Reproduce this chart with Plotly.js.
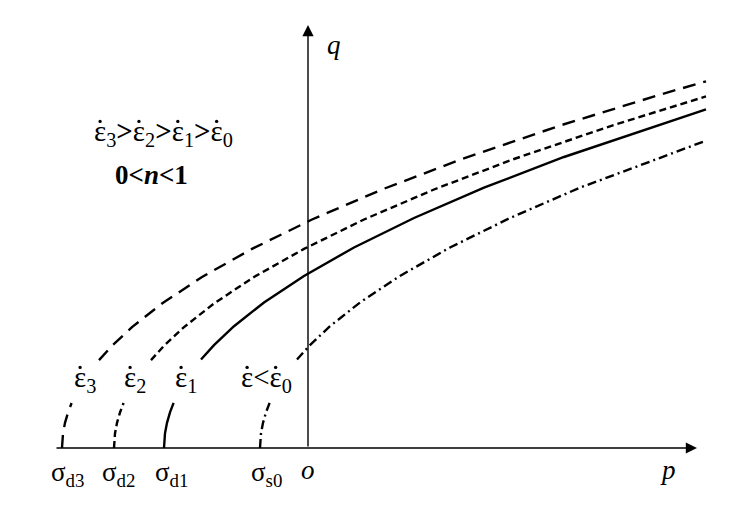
<!DOCTYPE html>
<html>
<head>
<meta charset="utf-8">
<script src="https://cdn.plot.ly/plotly-3.0.1.min.js"></script>
<style>html,body{margin:0;padding:0;background:#fff;}#chart{width:741px;height:522px;}</style>
</head>
<body>
<div id="chart"></div>
<script>
// Values (p relative to origin o, q above the p axis)
const curveNames = ["eps3", "eps2", "eps1", "eps0"];
const startLabels = ["σ<sub>d3</sub>", "σ<sub>d2</sub>", "σ<sub>d1</sub>", "σ<sub>s0</sub>"];
const rateLabels = ["ε<sub>3</sub>", "ε<sub>2</sub>", "ε<sub>1</sub>", "ε<ε<sub>0</sub>"];

// lower part (from the p axis up to the label) and upper part (above the label)
const p3 = [-246, -245, -243, -240, -236.4, null, -209, -196, -176, -146, -106, -56, 4, 74, 154, 254, 354, 398];
const q3 = [0, 14.5, 25.1, 35.5, 45, null, 87.9, 102.2, 120.9, 144.5, 171.0, 199.1, 228.5, 258.5, 289.0, 323.1, 353.9, 366.7];
const p2 = [-194, -193, -191, -188, -184.4, null, -157, -144, -124, -94, -54, -4, 56, 126, 206, 306, 398];
const q2 = [0, 14.5, 25.1, 35.5, 45, null, 87.9, 102.2, 120.9, 144.5, 171.0, 199.1, 228.5, 258.5, 289.0, 323.1, 351.6];
const p1 = [-144, -143, -141, -138, -134.4, null, -107, -94, -74, -44, -4, 46, 106, 176, 256, 398];
const q1 = [0, 14.6, 25.2, 35.6, 45.1, null, 88.5, 102.9, 121.8, 145.5, 172.1, 200.5, 230.0, 260.3, 291.0, 338.7];
const p0 = [-48, -47, -45, -42, -38.4, null, -11, 2, 22, 52, 92, 142, 202, 272, 395];
const q0 = [0, 14.6, 25.2, 35.6, 45.1, null, 88.5, 102.9, 121.8, 145.5, 172.1, 200.5, 230.0, 260.3, 306.2];

const startLabelP = [-240.5, -189.5, -137, -41.5];
const rateLabelP = [-223, -173, -122, -42];

const serif = "Liberation Serif";
const dashes = ["13px,8px", "7px,4px", "solid", "9px,4px,2px,4px"];
const ps = [p3, p2, p1, p0], qs = [q3, q2, q1, q0];

const traces = ps.map((p, i) => ({
  x: p, y: qs[i], type: "scatter", mode: "lines", name: curveNames[i],
  connectgaps: false, line: {color: "#000", width: 2.4, dash: dashes[i]},
  hoverinfo: "skip"
}));

const txt = (x, y, text, size) => ({x: x, y: y, xref: "x", yref: "y", text: text, showarrow: false,
  font: {family: serif, size: size, color: "#000"}});

const ann = [];
// axes with arrows
ann.push({x: 389, y: 0, ax: -253, ay: 0, xref: "x", yref: "y", axref: "x", ayref: "y",
  text: "", showarrow: true, arrowhead: 2, arrowsize: 1.6, arrowwidth: 1.4, arrowcolor: "#000"});
ann.push({x: 0, y: 423, ax: 0, ay: 0, xref: "x", yref: "y", axref: "x", ayref: "y",
  text: "", showarrow: true, arrowhead: 2, arrowsize: 1.6, arrowwidth: 1.4, arrowcolor: "#000"});
ann.push(txt(360, -22, "<i>p</i>", 27));
ann.push(txt(26, 403, "<i>q</i>", 27));
ann.push(txt(-0.5, -22, "<i>o</i>", 27));
startLabelP.forEach((s, i) => ann.push(txt(s, -26, startLabels[i], 27)));
rateLabelP.forEach((s, i) => ann.push(txt(s, 69, rateLabels[i], 29)));
ann.push(txt(-144.5, 315, "ε<sub>3</sub><b>></b>ε<sub>2</sub><b>></b>ε<sub>1</sub><b>></b>ε<sub>0</sub>", 29));
ann.push(txt(-156.5, 273, "<b>0<<i>n</i><1</b>", 27));

const layout = {
  width: 741, height: 522,
  margin: {l: 0, r: 0, t: 0, b: 0},
  paper_bgcolor: "#fff", plot_bgcolor: "#fff",
  showlegend: false,
  xaxis: {range: [-308, 433], visible: false, fixedrange: true},
  yaxis: {range: [-74, 448], visible: false, fixedrange: true},
  annotations: ann
};

// put the "rate" dot above every ε, found from the drawn text
function addDots(gd) {
  const box = gd.getBoundingClientRect();
  const xa = gd._fullLayout.xaxis, ya = gd._fullLayout.yaxis;
  const shapes = [];
  gd.querySelectorAll("text.annotation-text").forEach(t => {
    const n = t.getNumberOfChars();
    const s = t.textContent;
    const m = t.getScreenCTM();
    for (let i = 0; i < n; i++) {
      if (s[i] !== "ε") continue;
      const e = t.getExtentOfChar(i);
      const pt = t.ownerSVGElement.createSVGPoint();
      pt.x = e.x + e.width * 0.5;
      pt.y = e.y + e.height * 0.2;
      const sp = pt.matrixTransform(m);
      const px = sp.x - box.left, py = sp.y - box.top;
      const dx = xa.p2l(px - xa._offset), dy = ya.p2l(py - ya._offset);
      shapes.push({type: "circle", xref: "x", yref: "y", x0: dx - 1.7, x1: dx + 1.7, y0: dy - 1.7, y1: dy + 1.7,
        fillcolor: "#000", line: {width: 0}});
    }
  });
  return Plotly.relayout(gd, {shapes: shapes});
}

Plotly.newPlot("chart", traces, layout, {displayModeBar: false, staticPlot: true}).then(addDots);
</script>
</body>
</html>
